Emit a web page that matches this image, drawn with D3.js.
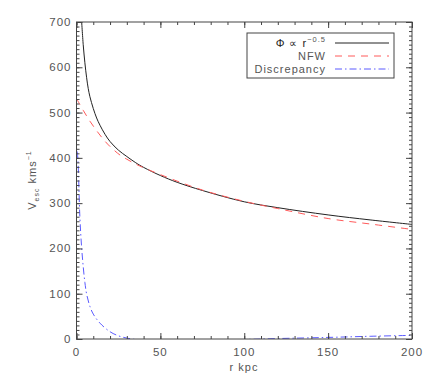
<!DOCTYPE html>
<html>
<head>
<meta charset="utf-8">
<script src="https://cdn.jsdelivr.net/npm/d3@7"></script>
<style>
  body { margin: 0; background: #fff; }
  text { font-family: "Liberation Sans", Arial, sans-serif; fill: #555; }
</style>
</head>
<body>
<svg width="436" height="382"></svg>
<script>
// values
var phiR   = [3, 4, 5, 6, 7, 8, 10, 12, 14, 17, 20, 25, 30, 35, 40, 50, 60, 75, 100, 120, 150, 175, 200],
    phiV   = [705, 650, 610, 578, 553, 535, 509, 488, 472, 452, 436, 417, 403, 390, 379, 361, 346, 328, 303, 290, 274, 263, 253];
var nfwR   = [0, 4, 8, 12, 16, 20, 26, 30, 36, 50, 75, 100, 120, 150, 175, 200],
    nfwV   = [531, 505, 481, 460, 441, 425, 406, 397, 385, 363, 329, 304, 288, 266, 254, 242];
var discR  = [0.5, 1, 2, 3, 4, 5, 6, 8, 10, 14, 20, 25, 30, 35, 40, 50, 60, 80, 100, 120, 150, 175, 200],
    discV  = [414, 385, 270, 205, 160, 125, 100, 72, 55, 35, 16, 7, 2, -1, -2, -3, -3, -2, -1, 1, 3.5, 6, 8];

var xTicks = [0, 50, 100, 150, 200],
    yTicks = [0, 100, 200, 300, 400, 500, 600, 700];

var svg = d3.select("svg");
var pLeft = 76.5, pRight = 412, pTop = 22, pBottom = 339;

var x = d3.scaleLinear().domain([0, 200]).range([pLeft, pRight]),
    y = d3.scaleLinear().domain([0, 700]).range([pBottom, pTop]);

svg.append("clipPath").attr("id", "clip")
  .append("rect").attr("x", pLeft).attr("y", pTop)
    .attr("width", pRight - pLeft).attr("height", pBottom - pTop);

function pts(rs, vs) { return rs.map(function(r, i) { return [r, vs[i]]; }); }

var line = d3.line()
    .x(function(d) { return x(d[0]); })
    .y(function(d) { return y(d[1]); })
    .curve(d3.curveCatmullRom.alpha(0.5));

var g = svg.append("g").attr("clip-path", "url(#clip)");
g.append("path").datum(pts(phiR, phiV)).attr("d", line)
    .attr("fill", "none").attr("stroke", "#222").attr("stroke-width", 1);
g.append("path").datum(pts(nfwR, nfwV)).attr("d", line)
    .attr("fill", "none").attr("stroke", "#ff5a5a").attr("stroke-width", 1)
    .attr("stroke-dasharray", "7,6");
g.append("path").datum(pts(discR, discV)).attr("d", line)
    .attr("fill", "none").attr("stroke", "#5a5aff").attr("stroke-width", 1)
    .attr("stroke-dasharray", "7,3,1.5,3");

// axes box with inward ticks, as IDL draws them
var axisColor = "#444";
svg.append("rect").attr("x", pLeft).attr("y", pTop)
    .attr("width", pRight - pLeft).attr("height", pBottom - pTop)
    .attr("fill", "none").attr("stroke", axisColor).attr("stroke-width", 1);

var xMinor = d3.range(0, 201, 10),
    yMinor = d3.range(0, 701, 10);

svg.append("g").attr("transform", "translate(0," + pBottom + ")")
    .call(d3.axisTop(x).tickValues(xMinor).tickSize(3).tickFormat(""));
svg.append("g").attr("transform", "translate(0," + pBottom + ")")
    .call(d3.axisTop(x).tickValues(xTicks).tickSize(6).tickFormat(""));
svg.append("g").attr("transform", "translate(0," + pTop + ")")
    .call(d3.axisBottom(x).tickValues(xMinor).tickSize(3).tickFormat(""));
svg.append("g").attr("transform", "translate(0," + pTop + ")")
    .call(d3.axisBottom(x).tickValues(xTicks).tickSize(6).tickFormat(""));
svg.append("g").attr("transform", "translate(" + pLeft + ",0)")
    .call(d3.axisRight(y).tickValues(yMinor).tickSize(3).tickFormat(""));
svg.append("g").attr("transform", "translate(" + pLeft + ",0)")
    .call(d3.axisRight(y).tickValues(yTicks).tickSize(6).tickFormat(""));
svg.append("g").attr("transform", "translate(" + pRight + ",0)")
    .call(d3.axisLeft(y).tickValues(yMinor).tickSize(3).tickFormat(""));
svg.append("g").attr("transform", "translate(" + pRight + ",0)")
    .call(d3.axisLeft(y).tickValues(yTicks).tickSize(6).tickFormat(""));
svg.selectAll(".domain").remove();
svg.selectAll(".tick line").attr("stroke", axisColor);
svg.selectAll(".tick text").remove();

svg.append("g").selectAll("text").data(xTicks).enter().append("text")
    .attr("x", function(d) { return x(d); }).attr("y", 356)
    .attr("text-anchor", "middle").attr("font-size", 11.5)
    .attr("letter-spacing", 1).text(function(d) { return d; });
svg.append("g").selectAll("text").data(yTicks).enter().append("text")
    .attr("x", pLeft - 5).attr("y", function(d) { return y(d) + 4; })
    .attr("text-anchor", "end").attr("font-size", 11.5)
    .attr("letter-spacing", 1).text(function(d) { return d; });

svg.append("text").attr("x", 244).attr("y", 371)
    .attr("text-anchor", "middle").attr("font-size", 11).attr("letter-spacing", 1)
    .text("r  kpc");

var yl = svg.append("text").attr("transform", "translate(36,180) rotate(-90)")
    .attr("text-anchor", "middle").attr("font-size", 11).attr("letter-spacing", 1);
yl.append("tspan").text("V");
yl.append("tspan").attr("font-size", 7).attr("dy", 3).text("esc");
yl.append("tspan").attr("dy", -3).text("  kms");
yl.append("tspan").attr("font-size", 7).attr("dy", -5).text("−1");

// legend
var legend = svg.append("g");
legend.append("rect").attr("x", 247).attr("y", 33).attr("width", 147).attr("height", 45)
    .attr("fill", "#fff").attr("stroke", axisColor).attr("stroke-width", 1);
var names = ["phi", "NFW", "Discrepancy"],
    strokes = ["#222", "#ff5a5a", "#5a5aff"],
    dashes = [null, "7,6", "7,3,1.5,3"];
names.forEach(function(n, i) {
  var ly = 43 + i * 13;
  legend.append("line").attr("x1", 335).attr("x2", 389).attr("y1", ly).attr("y2", ly)
      .attr("stroke", strokes[i]).attr("stroke-dasharray", dashes[i]);
  var t = legend.append("text").attr("x", 326).attr("y", ly + 4)
      .attr("text-anchor", "end").attr("font-size", 11).attr("letter-spacing", 1);
  if (i === 0) {
    t.append("tspan").attr("fill", "#222").text("Φ  ∝  r");
    t.append("tspan").attr("font-size", 7.5).attr("dy", -5).text("−0.5");
  } else {
    t.text(n);
  }
});
</script>
</body>
</html>
